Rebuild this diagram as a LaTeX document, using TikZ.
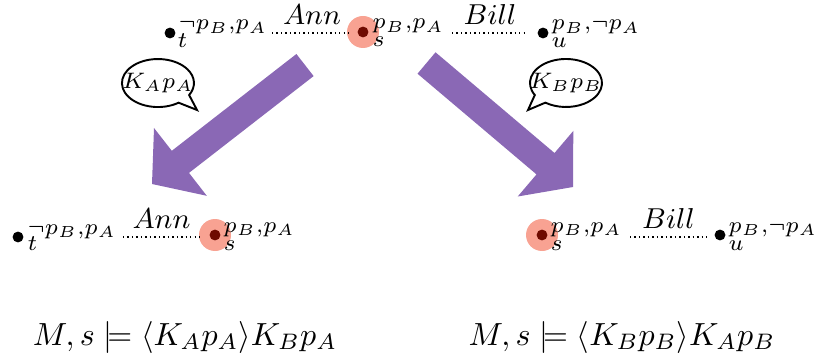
\documentclass[tikz,border=0pt]{standalone}
\usetikzlibrary{calc}
\definecolor{arrowpurple}{RGB}{138,104,181}
\definecolor{halo}{RGB}{248,162,146}
\definecolor{darkdot}{RGB}{110,10,0}
\begin{document}
\begin{tikzpicture}[x=0.3125pt,y=-0.3125pt,
  world/.style={circle,fill=black,inner sep=0pt,minimum size=3.4pt},
  actual/.style={circle,fill=darkdot,inner sep=0pt,minimum size=3.4pt},
  haloc/.style={circle,fill=halo,inner sep=0pt,minimum size=10pt},
  val/.style={anchor=base west,inner sep=0pt,font=\fontsize{7.4}{9}\selectfont},
  wname/.style={anchor=base west,inner sep=0pt,font=\scriptsize},
  acc/.style={densely dotted,line width=0.4pt},
  agent/.style={midway,above,inner sep=2.5pt,font=\small},
  bigarrow/.style={fill=arrowpurple,draw=none},
  bubble/.style={draw,line width=0.6pt,fill=white},
  bubtext/.style={inner sep=0pt,font=\fontsize{6.7}{8}\selectfont},
  formula/.style={anchor=base,inner sep=0pt}]
\useasboundingbox (0,0) rectangle (814,362);

% ---- top model ----
\node[haloc] (h1) at (363,32) {};
\node[world] (t1) at (170,33) {};
\node[actual] (s1) at (363,32) {};
\node[world] (u1) at (543,33) {};
\node[val] (t1v) at (178,30) {$\neg p_B{,}p_A$};
\node[wname] (t1n) at (177,48) {$t$};
\node[val] (s1v) at (372,29) {$p_B{,}p_A$};
\node[wname] (s1n) at (372,47) {$s$};
\node[val] (u1v) at (551,30) {$p_B{,}\neg p_A$};
\node[wname] (u1n) at (551,48) {$u$};
\coordinate (a1) at (272,33);
\coordinate (a2) at (352,33);
\coordinate (b1) at (452,33);
\coordinate (b2) at (528,33);
\draw[acc] (a1) -- node[agent] {$Ann$} (a2);
\draw[acc] (b1) -- node[agent] {$Bill$} (b2);

% ---- speech bubbles ----
\coordinate (bA) at (158,83);
\coordinate (tipA) at (197,110);
\draw[bubble] ($(bA)+(20.6,19.7)$) arc[start angle=55,end angle=390,x radius=36,y radius=24]
  -- (tipA) -- cycle;
\node[bubtext] (kA) at (bA) {$K_Ap_A$};
\coordinate (bB) at (566,83);
\coordinate (tipB) at (528,110);
\draw[bubble] ($(bB)+(-31.2,12)$) arc[start angle=150,end angle=485,x radius=36,y radius=24]
  -- (tipB) -- cycle;
\node[bubtext] (kB) at (bB) {$K_Bp_B$};

% ---- big arrows ----
\fill[bigarrow] (296.4,54.0) -- (313.6,76.1) -- (189.0,172.9) -- (206.8,195.8)
  -- (152,184) -- (154.0,128.0) -- (171.8,150.8) -- cycle;
\fill[bigarrow] (435.5,52.3) -- (554.5,153.0) -- (573.3,130.9) -- (573,187)
  -- (517.7,196.5) -- (536.5,174.4) -- (417.5,73.7) -- cycle;

% ---- bottom left model ----
\node[haloc] (h2) at (215,235) {};
\node[world] (t2) at (18,237) {};
\node[actual] (s2) at (215,235) {};
\node[val] (t2v) at (27,234) {$\neg p_B{,}p_A$};
\node[wname] (t2n) at (27,251) {$t$};
\node[val] (s2v) at (223,232) {$p_B{,}p_A$};
\node[wname] (s2n) at (223,250) {$s$};
\coordinate (c1) at (123,237);
\coordinate (c2) at (200,237);
\draw[acc] (c1) -- node[agent] {$Ann$} (c2);

% ---- bottom right model ----
\node[haloc] (h3) at (542,235) {};
\node[actual] (s3) at (542,235) {};
\node[world] (u3) at (720,235) {};
\node[val] (s3v) at (550,232) {$p_B{,}p_A$};
\node[wname] (s3n) at (550,250) {$s$};
\node[val] (u3v) at (728,232) {$p_B{,}\neg p_A$};
\node[wname] (u3n) at (728,250) {$u$};
\coordinate (d1) at (630,237);
\coordinate (d2) at (707,237);
\draw[acc] (d1) -- node[agent] {$Bill$} (d2);

% ---- formulas ----
\node[formula] (f1) at (185,345) {$M,s\models\langle K_Ap_A\rangle K_Bp_A$};
\node[formula] (f2) at (622,345) {$M,s\models\langle K_Bp_B\rangle K_Ap_B$};
\end{tikzpicture}
\end{document}
